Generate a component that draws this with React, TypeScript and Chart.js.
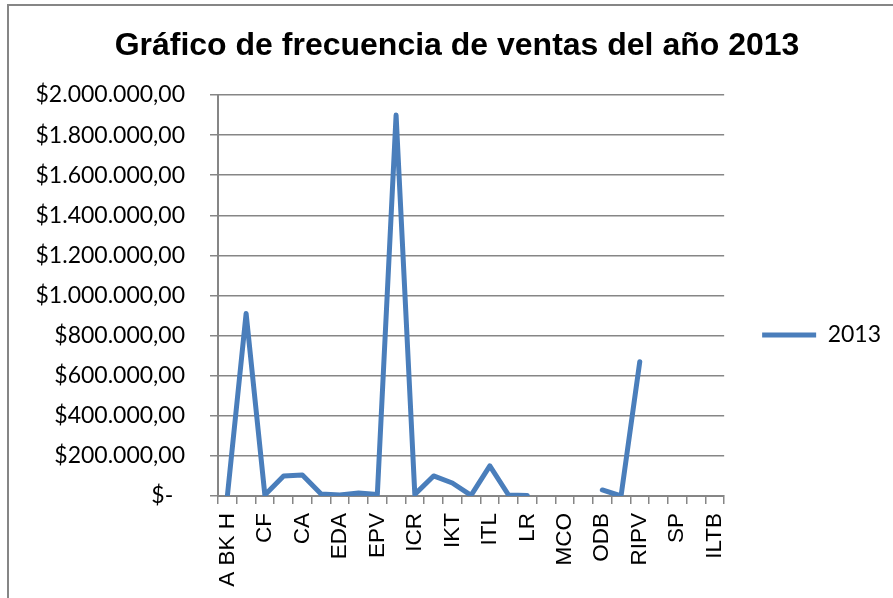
import React, { useEffect, useRef } from "react";
import { Chart, registerables } from "chart.js";

Chart.register(...registerables);

const TITLE = "Gráfico de frecuencia de ventas del año 2013";
const SERIES_LABEL = "2013";

// 27 categories; only every other name is printed on the axis in the reference
const categories = [
  "A BK H", "", "CF", "", "CA", "", "EDA", "", "EPV", "", "ICR", "", "IKT", "",
  "ITL", "", "LR", "", "MCO", "", "ODB", "", "RIPV", "", "SP", "", "ILTB",
];

const sales2013: (number | null)[] = [
  0, 910000, 5000, 100000, 105000, 10000, 5000, 15000, 8000, 1900000,
  8000, 100000, 65000, 3000, 150000, 5000, 2000, null, null, null,
  30000, 0, 670000, null, null, null, null,
];

const yMin = 0;
const yMax = 2000000;
const yStep = 200000;

function formatPeso(v: number): string {
  if (v === 0) return "$-  ";
  const s = Math.round(v).toString().replace(/\B(?=(\d{3})+(?!\d))/g, ".");
  return "$" + s + ",00";
}

const GRID = "#868686";

export default function App() {
  const ref = useRef<HTMLCanvasElement>(null);

  useEffect(() => {
    if (!ref.current) return;
    const chart = new Chart(ref.current, {
      type: "line",
      data: {
        labels: categories,
        datasets: [
          {
            label: SERIES_LABEL,
            data: sales2013,
            borderColor: "#4a7ebb",
            backgroundColor: "#4a7ebb",
            borderWidth: 5,
            pointRadius: 0,
            pointHoverRadius: 0,
            borderCapStyle: "round",
            borderJoinStyle: "round",
            spanGaps: false,
            fill: false,
            tension: 0,
          },
        ],
      },
      options: {
        responsive: false,
        animation: false,
        layout: { padding: { left: 14, right: 18, top: 0, bottom: 0 } },
        plugins: {
          title: {
            display: true,
            text: TITLE,
            color: "#000",
            font: { family: "'Liberation Sans', Arial, sans-serif", size: 32, weight: "bold", lineHeight: 1.2 },
            padding: { top: 22, bottom: 29.6 },
          },
          legend: {
            position: "right",
            labels: {
              usePointStyle: true,
              pointStyle: "line",
              pointStyleWidth: 54,
              padding: 38,
              color: "#000",
              font: { family: "Lato, 'Open Sans', sans-serif", size: 23 },
            },
          },
          tooltip: { enabled: false },
        },
        scales: {
          x: {
            offset: true,
            grid: {
              offset: true,
              drawOnChartArea: false,
              drawTicks: true,
              tickLength: 8,
              color: GRID,
              lineWidth: 1.5,
            },
            border: { display: true, color: GRID, width: 2 },
            ticks: {
              autoSkip: false,
              maxRotation: 90,
              minRotation: 90,
              padding: 9,
              color: "#000",
              font: { family: "'Liberation Sans', Arial, sans-serif", size: 22.5 },
            },
            afterFit: (s: any) => {
              s.height = 169;
            },
          },
          y: {
            min: yMin,
            max: yMax,
            ticks: {
              stepSize: yStep,
              padding: 25,
              color: "#000",
              font: { family: "Lato, 'Open Sans', sans-serif", size: 23 },
              callback: (v: any) => formatPeso(Number(v)),
            },
            grid: { color: GRID, lineWidth: 1.5, tickLength: 8 },
            border: { display: true, color: GRID, width: 2 },
            afterFit: (s: any) => {
              s.width = 195;
            },
          },
        },
      },
    });
    return () => chart.destroy();
  }, []);

  return (
    <div style={{ position: "fixed", inset: 0, overflow: "hidden", background: "#fff" }}>
      <div
        style={{
          position: "absolute",
          left: 7,
          top: 3.5,
          width: 1000,
          height: 800,
          border: `2px solid ${GRID}`,
          boxSizing: "border-box",
        }}
      />
      <div style={{ position: "absolute", left: 9, top: 5, width: 900, height: 660 }}>
        <canvas ref={ref} width={900} height={660} style={{ width: 900, height: 660, display: "block" }} />
      </div>
    </div>
  );
}
